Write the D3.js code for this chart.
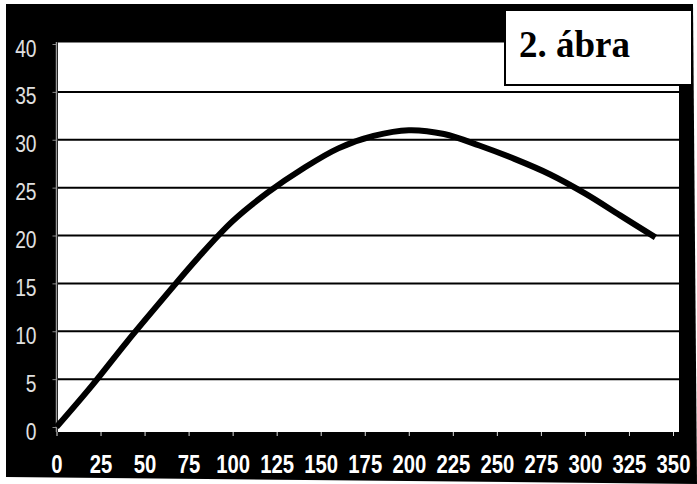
<!DOCTYPE html>
<html>
<head>
<meta charset="utf-8">
<script src="https://cdn.jsdelivr.net/npm/d3@7"></script>
<style>
  body { margin: 0; background: #fff; }
  svg { display: block; }
</style>
</head>
<body>
<div id="chart"></div>
<script>
// adatok
const xValues = [0, 20, 40, 60, 80, 100, 120, 140, 160, 180, 200, 220, 240, 260, 280, 300, 320, 340];
const yValues = [0, 4.3, 8.9, 13.3, 17.6, 21.5, 24.5, 27.0, 29.1, 30.4, 31.0, 30.6, 29.4, 28.0, 26.4, 24.4, 22.1, 19.8];
const xTicks = [0, 25, 50, 75, 100, 125, 150, 175, 200, 225, 250, 275, 300, 325, 350];
const yTicks = [0, 5, 10, 15, 20, 25, 30, 35, 40];
const title = "2. ábra";

const width = 697, height = 484;

const svg = d3.select("#chart").append("svg")
  .attr("width", width)
  .attr("height", height);

// fekete háttér (kicsit ferde a szkennelés miatt)
svg.append("path")
  .attr("d", "M6,4 L693,4 L697,484 L6,477 Z")
  .attr("fill", "#000");

const x = d3.scaleLinear().domain([0, 350]).range([56.5, 673]);
const y = d3.scaleLinear().domain([0, 40]).range([427, 44]);

// rajzterület
svg.append("rect")
  .attr("x", 58).attr("y", 42.5)
  .attr("width", 679 - 58).attr("height", 432 - 42.5)
  .attr("fill", "#fff");

// vízszintes rácsvonalak
svg.append("g")
  .selectAll("line")
  .data(yTicks.filter(d => d > 0 && d < 40))
  .join("line")
    .attr("x1", 58).attr("x2", 679)
    .attr("y1", d => y(d)).attr("y2", d => y(d))
    .attr("stroke", "#000")
    .attr("stroke-width", 2);

// y tengely - keskeny betű helyett összenyomott Liberation Sans
const ySx = 0.8;
const yAxis = svg.append("g")
  .attr("transform", "translate(56.5,0)")
  .call(d3.axisLeft(y).tickValues(yTicks).tickSize(4).tickSizeOuter(0));
yAxis.select(".domain").remove();
yAxis.selectAll(".tick line").attr("stroke", "#888");
yAxis.selectAll(".tick text")
  .attr("x", -20 / ySx)
  .attr("dy", "0.5em")
  .attr("transform", `scale(${ySx},1)`)
  .attr("fill", "#e0e0e0")
  .style("font-family", "'Liberation Sans', Arial, sans-serif")
  .style("font-size", "24px");

svg.append("line")
  .attr("x1", 56.5).attr("x2", 56.5)
  .attr("y1", 42).attr("y2", 432)
  .attr("stroke", "#999")
  .attr("stroke-width", 1.5);

// x tengely
const xSx = 0.78;
const xAxis = svg.append("g")
  .attr("transform", "translate(0,432)")
  .call(d3.axisBottom(x).tickValues(xTicks).tickSize(4).tickSizeOuter(0));
xAxis.select(".domain").remove();
xAxis.selectAll(".tick line").attr("stroke", "#ddd");
xAxis.selectAll(".tick text")
  .attr("y", 41)
  .attr("dy", 0)
  .attr("transform", `scale(${xSx},1)`)
  .attr("fill", "#fff")
  .style("font-family", "'Liberation Sans', Arial, sans-serif")
  .style("font-weight", "bold")
  .style("font-size", "26px");

// görbe
const line = d3.line()
  .x((d, i) => x(xValues[i]))
  .y(d => y(d))
  .curve(d3.curveCatmullRom);

svg.append("path")
  .datum(yValues)
  .attr("d", line)
  .attr("fill", "none")
  .attr("stroke", "#000")
  .attr("stroke-width", 6);

// cím doboz
svg.append("rect")
  .attr("x", 505).attr("y", 10)
  .attr("width", 187).attr("height", 75)
  .attr("fill", "#fff")
  .attr("stroke", "#000")
  .attr("stroke-width", 2);

svg.append("text")
  .attr("x", 519).attr("y", 57)
  .attr("font-family", "'Liberation Serif', 'Times New Roman', serif")
  .attr("font-weight", "bold")
  .attr("font-size", 37)
  .attr("fill", "#000")
  .text(title);
</script>
</body>
</html>
